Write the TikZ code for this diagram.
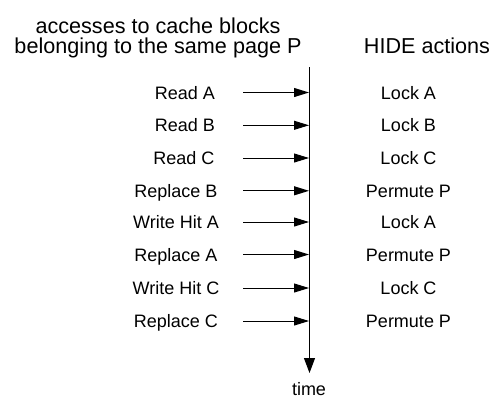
\documentclass[tikz,border=0pt]{standalone}
\usepackage{fontspec}
\setmainfont{Liberation Sans}
\usetikzlibrary{arrows.meta}
\begin{document}
\begin{tikzpicture}[x=1pt,y=-1pt,
  lbl/.style={anchor=base,inner sep=0pt,font=\fontsize{18}{20}\selectfont},
  ttl/.style={anchor=base,inner sep=0pt,font=\fontsize{21.6}{24}\selectfont},
  timeline/.style={line width=1pt,-{Triangle[length=15pt,width=11pt]}},
  access/.style={line width=1pt,-{Triangle[length=15pt,width=9pt]}}]
\useasboundingbox (0,0) rectangle (492,402);
% headings
\node[ttl] (h1) at (158,33) {accesses to cache blocks};
\node[ttl] (h2) at (158,53) {belonging to the same page P};
\node[ttl] (h3) at (427,53) {HIDE actions};
% time axis
\coordinate (top) at (309.5,67);
\coordinate (bot) at (309.5,373);
\draw[timeline] (top) -- (bot);
\node[lbl] (time) at (309,395) {time};
% accesses (left) and the resulting actions (right)
\foreach \i/\y/\lx/\acc/\act in {
  1/92.5/185/Read A/Lock A,
  2/125.3/185/Read B/Lock B,
  3/158/184/Read C/Lock C,
  4/190.8/176/Replace B/Permute P,
  5/222/176/Write Hit A/Lock A,
  6/254.5/176/Replace A/Permute P,
  7/288/176/Write Hit C/Lock C,
  8/321/176/Replace C/Permute P}{
  \node[lbl] (acc\i) at (\lx,\y+6.5) {\acc};
  \node[lbl] (act\i) at (408.5,\y+6.5) {\act};
  \coordinate (s\i) at (243,\y);
  \coordinate (t\i) at (309,\y);
  \draw[access] (s\i) -- (t\i);
}
\end{tikzpicture}
\end{document}
